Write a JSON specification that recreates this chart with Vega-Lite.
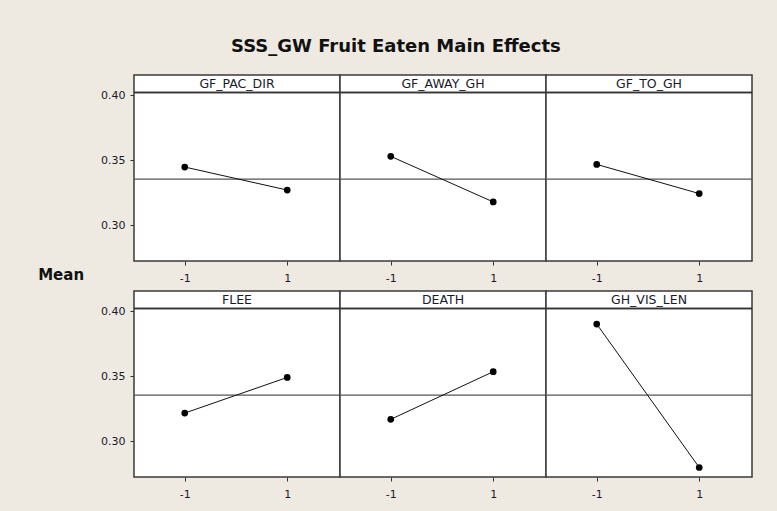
{
  "$schema": "https://vega.github.io/schema/vega-lite/v6.json",
  "background": "#EEEAE1",
  "padding": {"top": 38, "left": 38, "right": 25, "bottom": 16},
  "bounds": "flush",
  "title": {"text": "SSS_GW Fruit Eaten Main Effects", "font": "DejaVu Sans", "fontSize": 18, "fontWeight": "bold", "color": "#111111", "anchor": "middle", "offset": 18},
  "data": {"values": [
    {"factor": "GF_PAC_DIR", "row": 1, "col": 1, "level": -1, "mean": 0.3449, "grand": 0.3356},
    {"factor": "GF_PAC_DIR", "row": 1, "col": 1, "level": 1, "mean": 0.3272, "grand": 0.3356},
    {"factor": "GF_AWAY_GH", "row": 1, "col": 2, "level": -1, "mean": 0.3531, "grand": 0.3356},
    {"factor": "GF_AWAY_GH", "row": 1, "col": 2, "level": 1, "mean": 0.3181, "grand": 0.3356},
    {"factor": "GF_TO_GH", "row": 1, "col": 3, "level": -1, "mean": 0.3469, "grand": 0.3356},
    {"factor": "GF_TO_GH", "row": 1, "col": 3, "level": 1, "mean": 0.3245, "grand": 0.3356},
    {"factor": "FLEE", "row": 2, "col": 1, "level": -1, "mean": 0.3218, "grand": 0.3356},
    {"factor": "FLEE", "row": 2, "col": 1, "level": 1, "mean": 0.3492, "grand": 0.3356},
    {"factor": "DEATH", "row": 2, "col": 2, "level": -1, "mean": 0.3170, "grand": 0.3356},
    {"factor": "DEATH", "row": 2, "col": 2, "level": 1, "mean": 0.3536, "grand": 0.3356},
    {"factor": "GH_VIS_LEN", "row": 2, "col": 3, "level": -1, "mean": 0.3902, "grand": 0.3356},
    {"factor": "GH_VIS_LEN", "row": 2, "col": 3, "level": 1, "mean": 0.2800, "grand": 0.3356}
  ]},
  "facet": {
    "row": {"field": "row", "type": "ordinal", "title": "Mean",
      "header": {"labels": false, "titleAngle": 0, "titleOrient": "left", "titleFont": "DejaVu Sans", "titleFontSize": 15, "titleFontWeight": "bold", "titleColor": "#111111", "titlePadding": -40, "titleBaseline": "line-bottom", "titleLineHeight": 22}},
    "column": {"field": "col", "type": "ordinal", "title": null, "header": {"labels": false, "title": null}}
  },
  "spacing": {"row": 30, "column": 0},
  "resolve": {"scale": {"x": "independent"}, "axis": {"x": "independent"}},
  "spec": {
    "width": 206,
    "height": 186,
    "layer": [
      {
        "mark": {"type": "rule", "color": "#555555", "strokeWidth": 1.2},
        "encoding": {
          "y": {"field": "grand", "aggregate": "max", "type": "quantitative", "scale": {"domain": [0.2727, 0.4156], "zero": false, "nice": false}, "title": null,
            "axis": {"values": [0.30, 0.35, 0.40], "format": ".2f", "grid": false, "domain": false, "tickSize": 4, "tickColor": "#333333", "labelPadding": 5, "labelFont": "DejaVu Sans", "labelFontSize": 11, "labelColor": "#1a1a2a"}}
        }
      },
      {
        "mark": {"type": "rule", "color": "#333333", "strokeWidth": 1.5},
        "encoding": {"y": {"datum": 0.4022}}
      },
      {
        "transform": [{"filter": "datum.level == -1"}],
        "mark": {"type": "text", "font": "DejaVu Sans", "fontSize": 12.5, "color": "#1a1a2a", "baseline": "middle", "align": "center"},
        "encoding": {"y": {"datum": 0.4089}, "text": {"field": "factor"}}
      },
      {
        "mark": {"type": "line", "color": "#111111", "strokeWidth": 1},
        "encoding": {
          "x": {"field": "level", "type": "quantitative", "scale": {"domain": [-1.99, 2.03], "zero": false, "nice": false}, "title": null,
            "axis": {"values": [-1, 1], "labelExpr": "toString(datum.value)", "grid": false, "domain": false, "tickSize": 4, "tickColor": "#333333", "labelPadding": 7, "labelFont": "DejaVu Sans", "labelFontSize": 11, "labelColor": "#1a1a2a"}},
          "y": {"field": "mean", "type": "quantitative"}
        }
      },
      {
        "mark": {"type": "point", "filled": true, "color": "#000000", "size": 45, "opacity": 1},
        "encoding": {
          "x": {"field": "level", "type": "quantitative"},
          "y": {"field": "mean", "type": "quantitative"}
        }
      }
    ]
  },
  "config": {
    "view": {"stroke": "#3a3a3a", "strokeWidth": 1.5, "fill": "white"}
  }
}
